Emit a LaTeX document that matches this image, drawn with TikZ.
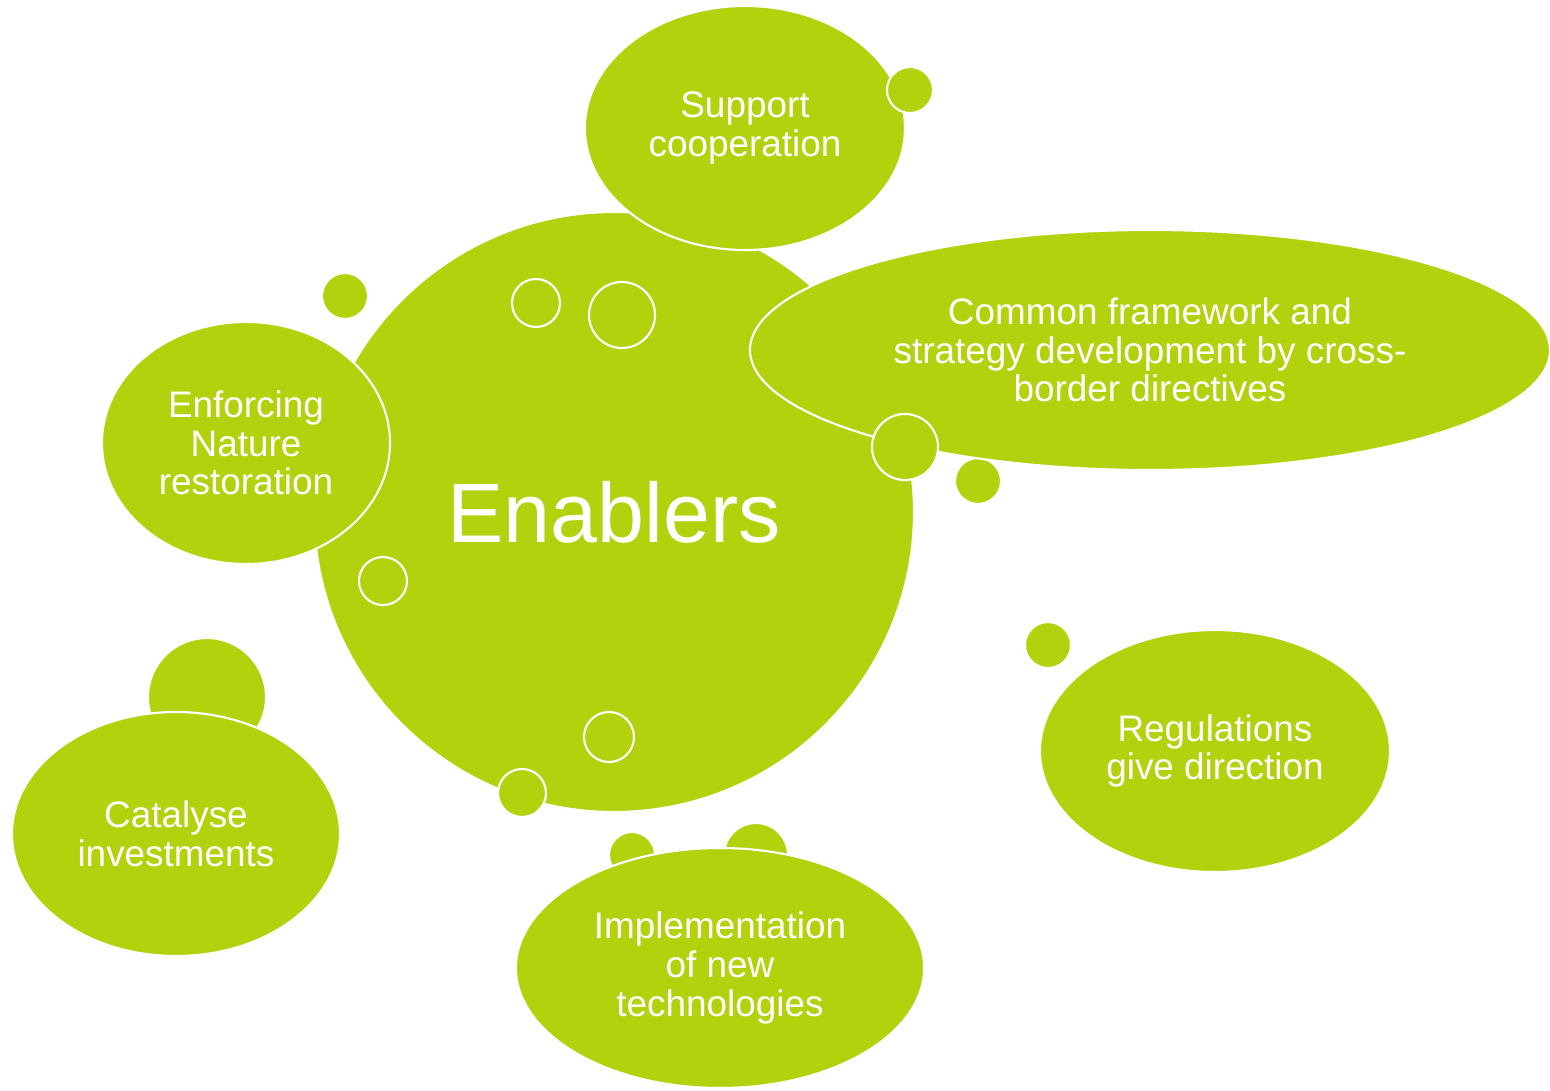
\documentclass[tikz,border=0pt]{standalone}
\usepackage{fontspec}
\setmainfont{Liberation Sans}
\usepackage{xcolor}
\usepackage{tikz}
\usetikzlibrary{positioning,shapes.geometric}
\definecolor{leaf}{RGB}{178,210,14}

\begin{document}
\begin{tikzpicture}[line width=0.6pt]
  \tikzstyle{bubble}=[ellipse,fill=leaf,draw=white,inner sep=0pt,align=center,text=white,font=\fontsize{10.5}{11}\selectfont]
  \tikzstyle{dot}=[circle,fill=leaf,draw=white,inner sep=0pt]
  \useasboundingbox (0,0) rectangle (15.5,10.9);

   
  \node[dot,minimum size=0.46cm] (d1) at (9.78,6.09) {};
  \node[dot,minimum size=1.18cm] (d2) at (2.07,3.93) {};
  \node[dot,minimum size=0.46cm] (d3) at (6.32,2.35) {};
  \node[dot,minimum size=0.64cm] (d4) at (7.56,2.35) {};
  \node[dot,minimum size=0.46cm] (d5) at (3.45,7.94) {};
  \node[dot,minimum size=0.46cm] (d6) at (10.48,4.45) {};

   
  \node[dot,minimum size=6cm,text=white,font=\fontsize{24}{26}\selectfont] (enablers) at (6.14,5.78) {Enablers};

   
  \node[bubble,minimum width=3.2cm,minimum height=2.44cm] (support) at (7.45,9.62) {Support\\cooperation};
  \node[dot,minimum size=0.46cm] (d7) at (9.10,10.00) {};
  \node[bubble,minimum width=8cm,minimum height=2.4cm] (common) at (11.50,7.40) {Common framework and\\strategy development by cross-\\border directives};
  \node[dot,minimum size=0.66cm] (d8) at (9.05,6.43) {};
  \node[bubble,minimum width=2.88cm,minimum height=2.42cm] (enforce) at (2.46,6.47) {Enforcing\\Nature\\restoration};

   
  \node[dot,minimum size=0.48cm] (d9) at (3.83,5.09) {};
  \node[dot,minimum size=0.48cm] (d10) at (5.36,7.87) {};
  \node[dot,minimum size=0.66cm] (d11) at (6.22,7.75) {};
  \node[dot,minimum size=0.50cm] (d12) at (6.09,3.53) {};
  \node[dot,minimum size=0.48cm] (d13) at (5.22,2.97) {};

   
  \node[bubble,minimum width=3.28cm,minimum height=2.44cm] (catalyse) at (1.76,2.56) {Catalyse\\investments};
  \node[bubble,minimum width=4.08cm,minimum height=2.4cm] (implement) at (7.20,1.22) {Implementation\\of new\\technologies};
  \node[bubble,minimum width=3.5cm,minimum height=2.42cm] (regulate) at (12.15,3.39) {Regulations\\give direction};
\end{tikzpicture}
\end{document}
